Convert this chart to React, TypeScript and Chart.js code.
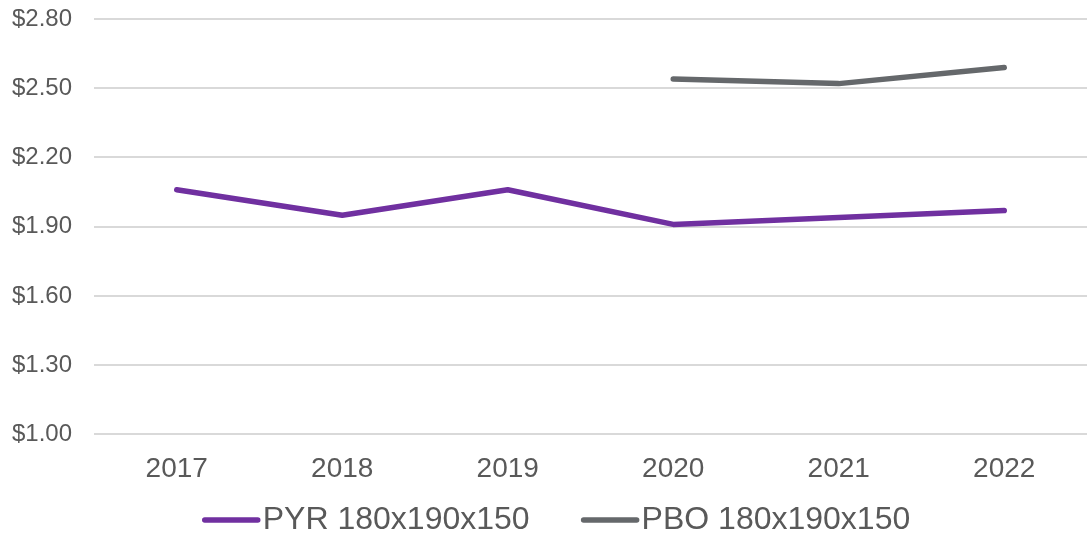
import React, { useEffect, useRef } from "react";
import { Chart, registerables } from "chart.js";

Chart.register(...registerables);

const categories = ["2017", "2018", "2019", "2020", "2021", "2022"];
const pyrValues = [2.06, 1.95, 2.06, 1.91, 1.94, 1.97];
const pboValues = [null, null, null, 2.54, 2.52, 2.59];
const seriesLabels = ["PYR 180x190x150", "PBO 180x190x150"];
const seriesColors = ["#7030a0", "#65686b"];
const yMin = 1.0;
const yMax = 2.8;
const yStep = 0.3;

const FONT = '"Liberation Sans", Arial, sans-serif';
const TEXT_COLOR = "#595959";

const legendPlugin = {
  id: "customLegend",
  afterDraw(chart: any) {
    const ctx = chart.ctx;
    ctx.save();
    ctx.font = `32px ${FONT}`;
    ctx.textBaseline = "middle";
    ctx.textAlign = "left";
    const items = chart.data.datasets.map((ds: any) => ({
      text: ds.label,
      color: ds.borderColor,
      w: ctx.measureText(ds.label).width,
    }));
    const lineW = 57;
    const gapText = 3;
    const gapItem = 52;
    const total =
      items.reduce((s: number, it: any) => s + lineW + gapText + it.w, 0) +
      gapItem * (items.length - 1);
    let x = chart.width / 2 + 13 - total / 2;
    const y = 520;
    for (const it of items) {
      ctx.strokeStyle = it.color;
      ctx.lineWidth = 5.5;
      ctx.lineCap = "round";
      ctx.beginPath();
      ctx.moveTo(x + 2, y);
      ctx.lineTo(x + lineW - 2, y);
      ctx.stroke();
      ctx.fillStyle = TEXT_COLOR;
      ctx.fillText(it.text, x + lineW + gapText, y);
      x += lineW + gapText + it.w + gapItem;
    }
    ctx.restore();
  },
};

export default function App() {
  const ref = useRef<HTMLCanvasElement | null>(null);
  useEffect(() => {
    if (!ref.current) return;
    const chart = new Chart(ref.current, {
      type: "line",
      data: {
        labels: categories,
        datasets: [
          {
            label: seriesLabels[0],
            data: pyrValues,
            borderColor: seriesColors[0],
            backgroundColor: seriesColors[0],
            borderWidth: 5.5,
            pointRadius: 0,
            borderCapStyle: "round",
            borderJoinStyle: "round",
            tension: 0,
          },
          {
            label: seriesLabels[1],
            data: pboValues,
            borderColor: seriesColors[1],
            backgroundColor: seriesColors[1],
            borderWidth: 5.5,
            pointRadius: 0,
            borderCapStyle: "round",
            borderJoinStyle: "round",
            tension: 0,
            spanGaps: false,
          },
        ],
      },
      options: {
        animation: false,
        responsive: false,
        maintainAspectRatio: false,
        layout: { padding: { top: 19, right: 0, left: 0, bottom: 39 } },
        plugins: {
          legend: { display: false },
          tooltip: { enabled: false },
        },
        scales: {
          x: {
            offset: true,
            grid: { display: false },
            border: { display: false },
            ticks: {
              color: TEXT_COLOR,
              font: { family: FONT, size: 28 },
              padding: 10,
              maxRotation: 0,
            },
          },
          y: {
            min: yMin,
            max: yMax,
            grid: { color: "#d9d9d9", lineWidth: 2, drawTicks: false },
            border: { display: false },
            ticks: {
              stepSize: yStep,
              color: TEXT_COLOR,
              font: { family: FONT, size: 24 },
              padding: 22,
              callback: (v: any) => "$" + Number(v).toFixed(2),
            },
            afterFit: (scale: any) => {
              scale.width = 94;
              scale.paddingTop = 0;
              scale.paddingBottom = 0;
            },
          },
        },
      },
      plugins: [legendPlugin],
    });
    return () => chart.destroy();
  }, []);
  return (
    <div style={{ position: "absolute", left: 0, top: 0, width: 1087, height: 535 }}>
      <canvas ref={ref} width={1087} height={535} style={{ display: "block" }} />
    </div>
  );
}
